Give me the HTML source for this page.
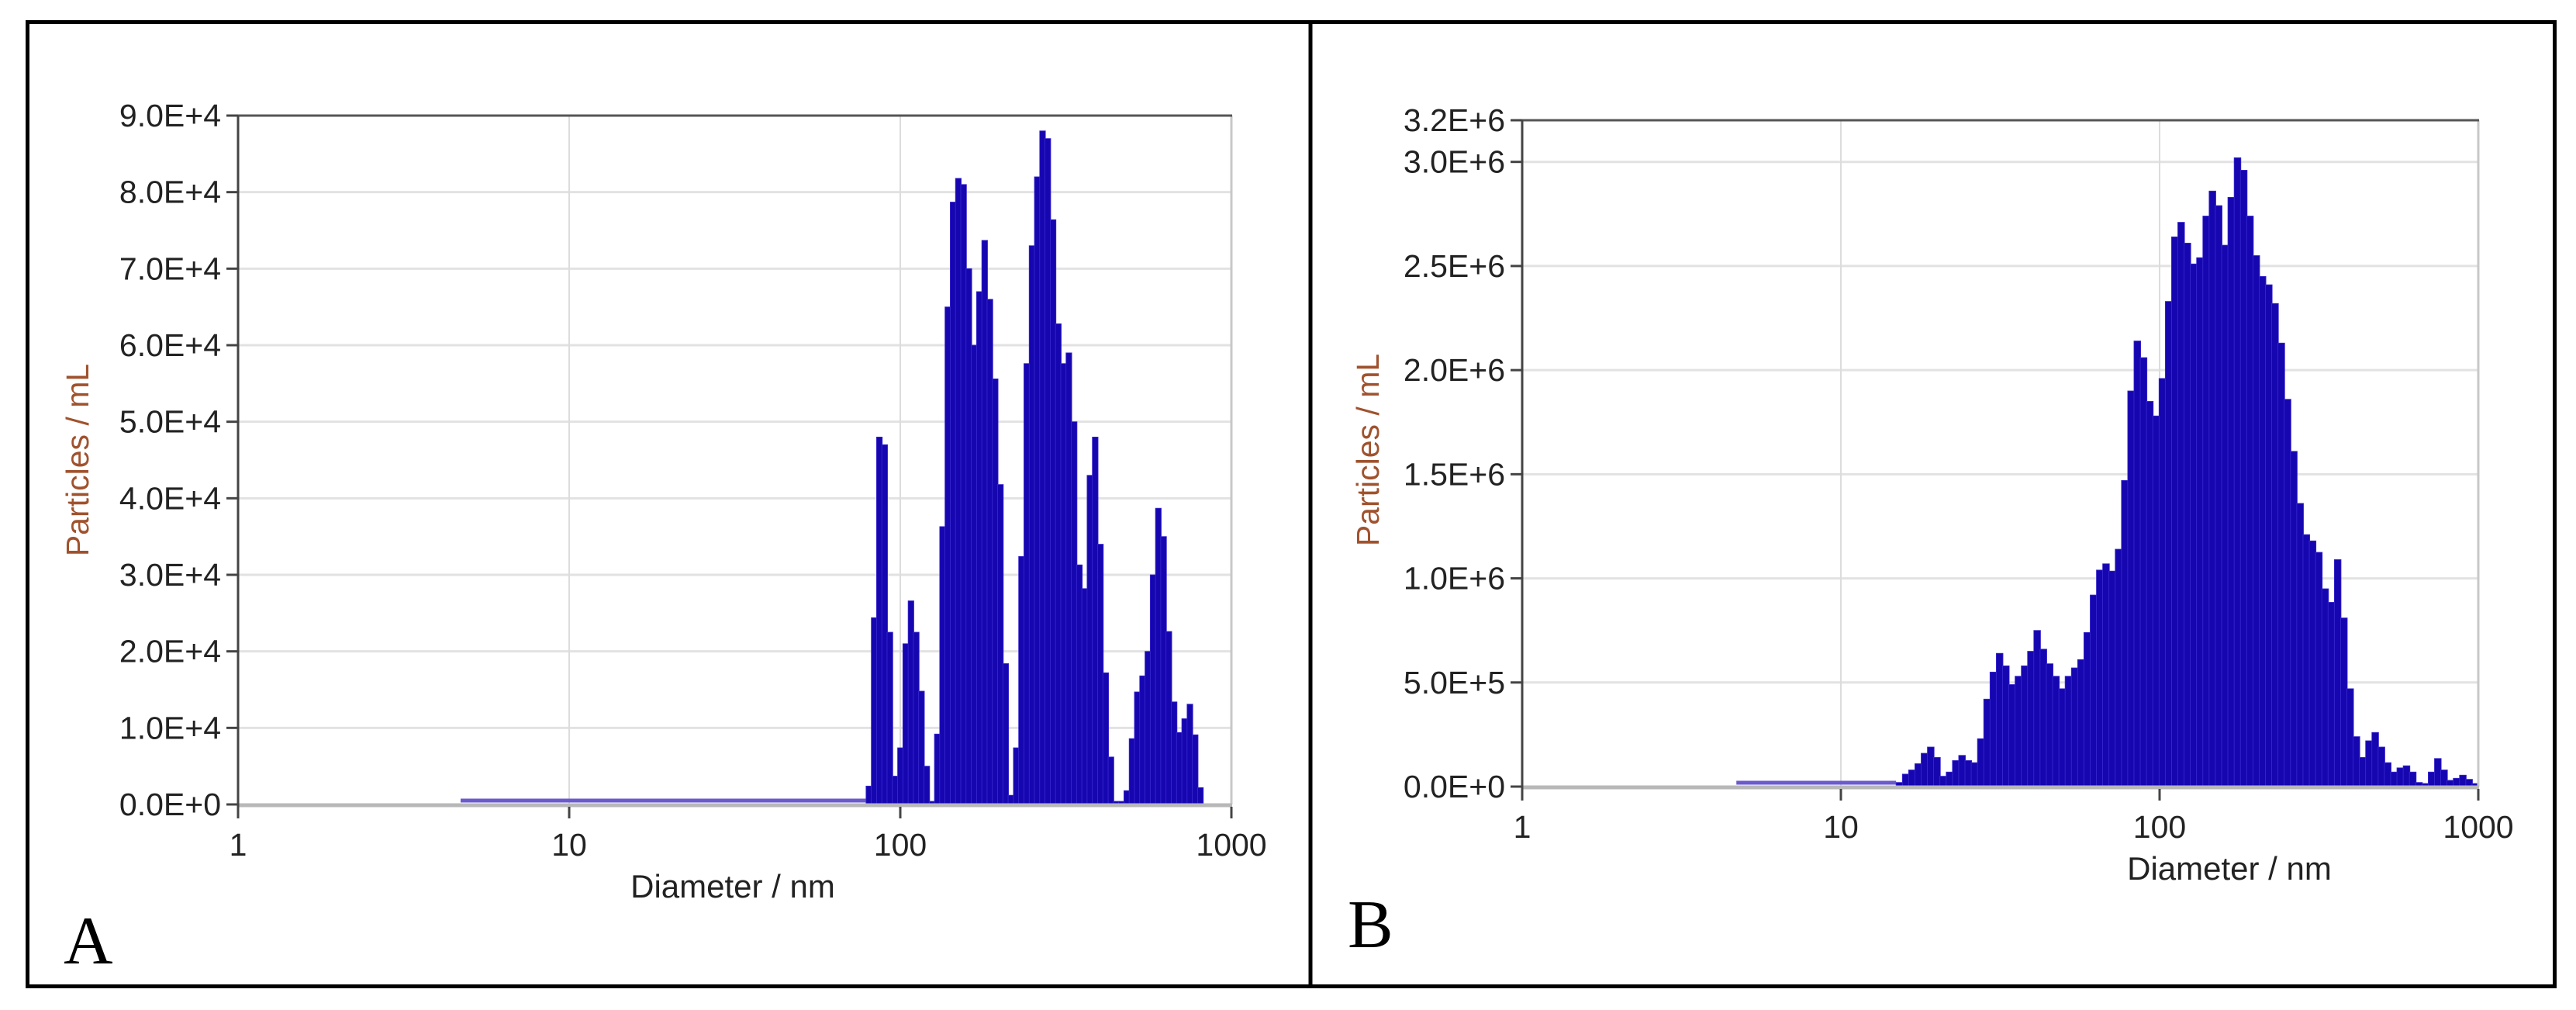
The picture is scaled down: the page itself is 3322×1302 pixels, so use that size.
<!DOCTYPE html>
<html><head><meta charset="utf-8">
<style>
html,body{margin:0;padding:0;background:#fff;}
body{width:3322px;height:1302px;position:relative;overflow:hidden;}
svg{position:absolute;left:0;top:0;}
.tick{font-family:"Liberation Sans",sans-serif;font-size:41px;fill:#222;}
.ttl{font-family:"Liberation Sans",sans-serif;font-size:42px;fill:#222;}
.ytl{font-family:"Liberation Sans",sans-serif;font-size:41px;fill:#a0522d;}
.panel{font-family:"Liberation Serif",serif;font-size:88px;fill:#000;}
</style></head>
<body>
<svg id="fig" width="3322" height="1302" viewBox="0 0 3322 1302">
  <rect x="35.5" y="28.5" width="3259" height="1243" fill="none" stroke="#000" stroke-width="5"/>
  <line x1="1690" y1="28" x2="1690" y2="1272" stroke="#000" stroke-width="5"/>
  <text class="panel" x="82" y="1242">A</text>
  <text class="panel" x="1738" y="1221">B</text>
</svg>
<script>
// ---- Chart A data ----
const aYTicks = [0, 10000, 20000, 30000, 40000, 50000, 60000, 70000, 80000, 90000];
const aYTickLabels = ["0.0E+0","1.0E+4","2.0E+4","3.0E+4","4.0E+4","5.0E+4","6.0E+4","7.0E+4","8.0E+4","9.0E+4"];
const aXTicks = [1, 10, 100, 1000];
const aXTickLabels = ["1","10","100","1000"];
const aBinStart = 78.8;   // nm, left edge of first bar
const aBinEnd = 820;      // nm, right edge of last bar
const aValues = [2400,24400,48000,47000,22500,3700,7400,21000,26600,22500,14800,5000,0,9200,36300,65000,78700,81800,81000,70000,60000,67000,73700,66000,55600,41800,18400,1200,7400,32400,57600,73000,82000,88000,87000,76400,62800,57600,59000,50000,31300,28200,43000,48000,34000,17200,6200,400,0,1800,8600,14700,16800,20000,30000,38700,35000,22600,13400,9400,11200,13100,9100,2200];

// ---- Chart B data ----
const bYTicks = [0, 500000, 1000000, 1500000, 2000000, 2500000, 3000000, 3200000];
const bYTickLabels = ["0.0E+0","5.0E+5","1.0E+6","1.5E+6","2.0E+6","2.5E+6","3.0E+6","3.2E+6"];
const bXTicks = [1, 10, 100, 1000];
const bXTickLabels = ["1","10","100","1000"];
const bBinStart = 14.9;
const bBinEnd = 1000;
const bValuesM = [0.02,0.06,0.08,0.11,0.16,0.19,0.14,0.05,0.07,0.125,0.15,0.125,0.115,0.23,0.42,0.55,0.64,0.58,0.49,0.53,0.58,0.65,0.75,0.66,0.59,0.53,0.47,0.53,0.57,0.61,0.74,0.92,1.04,1.07,1.035,1.14,1.47,1.9,2.14,2.06,1.85,1.78,1.96,2.33,2.64,2.71,2.61,2.51,2.54,2.74,2.86,2.79,2.6,2.83,3.02,2.96,2.74,2.55,2.45,2.41,2.32,2.13,1.86,1.61,1.36,1.21,1.18,1.125,0.95,0.885,1.09,0.81,0.47,0.24,0.14,0.22,0.26,0.19,0.115,0.07,0.09,0.10,0.07,0.02,0.01,0.07,0.135,0.08,0.03,0.04,0.055,0.035,0.01];
const bValues = bValuesM.map(v => v * 1e6);

const NS = "http://www.w3.org/2000/svg";
const fig = document.getElementById('fig');
function mk(tag, attrs, parent){
  const e = document.createElementNS(NS, tag);
  for (const k in attrs) e.setAttribute(k, attrs[k]);
  (parent || fig).appendChild(e);
  return e;
}

function drawChart(cfg){
  const g = mk('g', {});
  
  
  const L = cfg.left, R = cfg.right, T = cfg.top, B = cfg.bottom;
  const xs = d => L + (Math.log10(d) - 0) / 3 * (R - L);
  const ys = v => B - v / cfg.yMax * (B - T);

  // plot background
  const bg = mk('rect', {x:L, y:T, width:R-L, height:B-T, fill:'#fff'}, g);
  
  

  // horizontal gridlines
  cfg.yTicks.forEach((v, i) => {
    if (v === 0 || v === cfg.yMax) return;
    const gl = mk('line', {x1:L, x2:R, y1:ys(v), y2:ys(v), stroke:'#e2e2e2', 'stroke-width':3}, g);
    
    
  });
  // vertical gridlines
  cfg.xTicks.forEach(d => {
    if (d === 1 || d === 1000) return;
    const gl = mk('line', {x1:xs(d), x2:xs(d), y1:T, y2:B, stroke:'#dcdcdc', 'stroke-width':2}, g);
    
    
  });

  // baseline flat line from ~4.7 nm
  const bl = mk('line', {x1:xs(4.7), x2:xs(cfg.binStart), y1:B-5, y2:B-5, stroke:'#6a5acd', 'stroke-width':5}, g);
  
  

  // bars
  const n = cfg.values.length;
  const l0 = Math.log10(cfg.binStart), l1 = Math.log10(cfg.binEnd);
  const step = (l1 - l0) / n;
  cfg.values.forEach((v, i) => {
    const xa = xs(Math.pow(10, l0 + i*step));
    const xb = xs(Math.pow(10, l0 + (i+1)*step));
    const y = ys(v);
    const r = mk('rect', {x:xa, y:Math.min(y, B-4), width:xb-xa+0.6, height:Math.max(B - y, 4), fill:'#1606b0', stroke:'#3a2ad0', 'stroke-width':0.8}, g);
    
    
  });

  // frame
  const fr = mk('line', {x1:R, x2:R, y1:T, y2:B, stroke:'#c8c8c8', 'stroke-width':3}, g);
  
  
  const ft = mk('line', {x1:L, x2:R+1, y1:T, y2:T, stroke:'#555', 'stroke-width':3}, g);
  
  
  const xa = mk('line', {x1:L, x2:R+1, y1:B+1, y2:B+1, stroke:'#b8b8b8', 'stroke-width':5}, g);
  
  
  const ya = mk('line', {x1:L, x2:L, y1:T, y2:B+3, stroke:'#444', 'stroke-width':3}, g);
  
  

  // y ticks
  cfg.yTicks.forEach((v, i) => {
    const y = ys(v);
    const tk = mk('line', {x1:L-15, x2:L, y1:y, y2:y, stroke:'#444', 'stroke-width':3}, g);
    
    
    const t = mk('text', {x:L-22, y:y+14, 'text-anchor':'end', class:'tick'}, g);
    t.textContent = cfg.yTickLabels[i];
    
    
  });
  // x ticks
  cfg.xTicks.forEach((d, i) => {
    const x = xs(d);
    const tk = mk('line', {x1:x, x2:x, y1:B+3, y2:B+18, stroke:'#444', 'stroke-width':3}, g);
    
    
    const t = mk('text', {x:x, y:B+66, 'text-anchor':'middle', class:'tick'}, g);
    t.textContent = cfg.xTickLabels[i];
    
    
  });
  // titles
  const xt = mk('text', {x:cfg.xTitleX, y:B+120, 'text-anchor':'middle', class:'ttl'}, g);
  xt.textContent = 'Diameter / nm';
  
  
  const yt = mk('text', {x:0, y:0, 'text-anchor':'middle', class:'ytl', transform:`translate(${cfg.yTitleX},${cfg.yTitleY}) rotate(-90)`}, g);
  yt.textContent = 'Particles / mL';
  
  
}

drawChart({name:'chart-a', left:307, right:1588, top:149, bottom:1037, yMax:90000,
  yTicks:aYTicks, yTickLabels:aYTickLabels, xTicks:aXTicks, xTickLabels:aXTickLabels,
  binStart:aBinStart, binEnd:aBinEnd, values:aValues, xTitleX:945, yTitleX:114, yTitleY:593});
drawChart({name:'chart-b', left:1963, right:3196, top:155, bottom:1014, yMax:3200000,
  yTicks:bYTicks, yTickLabels:bYTickLabels, xTicks:bXTicks, xTickLabels:bXTickLabels,
  binStart:bBinStart, binEnd:bBinEnd, values:bValues, xTitleX:2875, yTitleX:1778, yTitleY:580});
</script>
</body></html>
